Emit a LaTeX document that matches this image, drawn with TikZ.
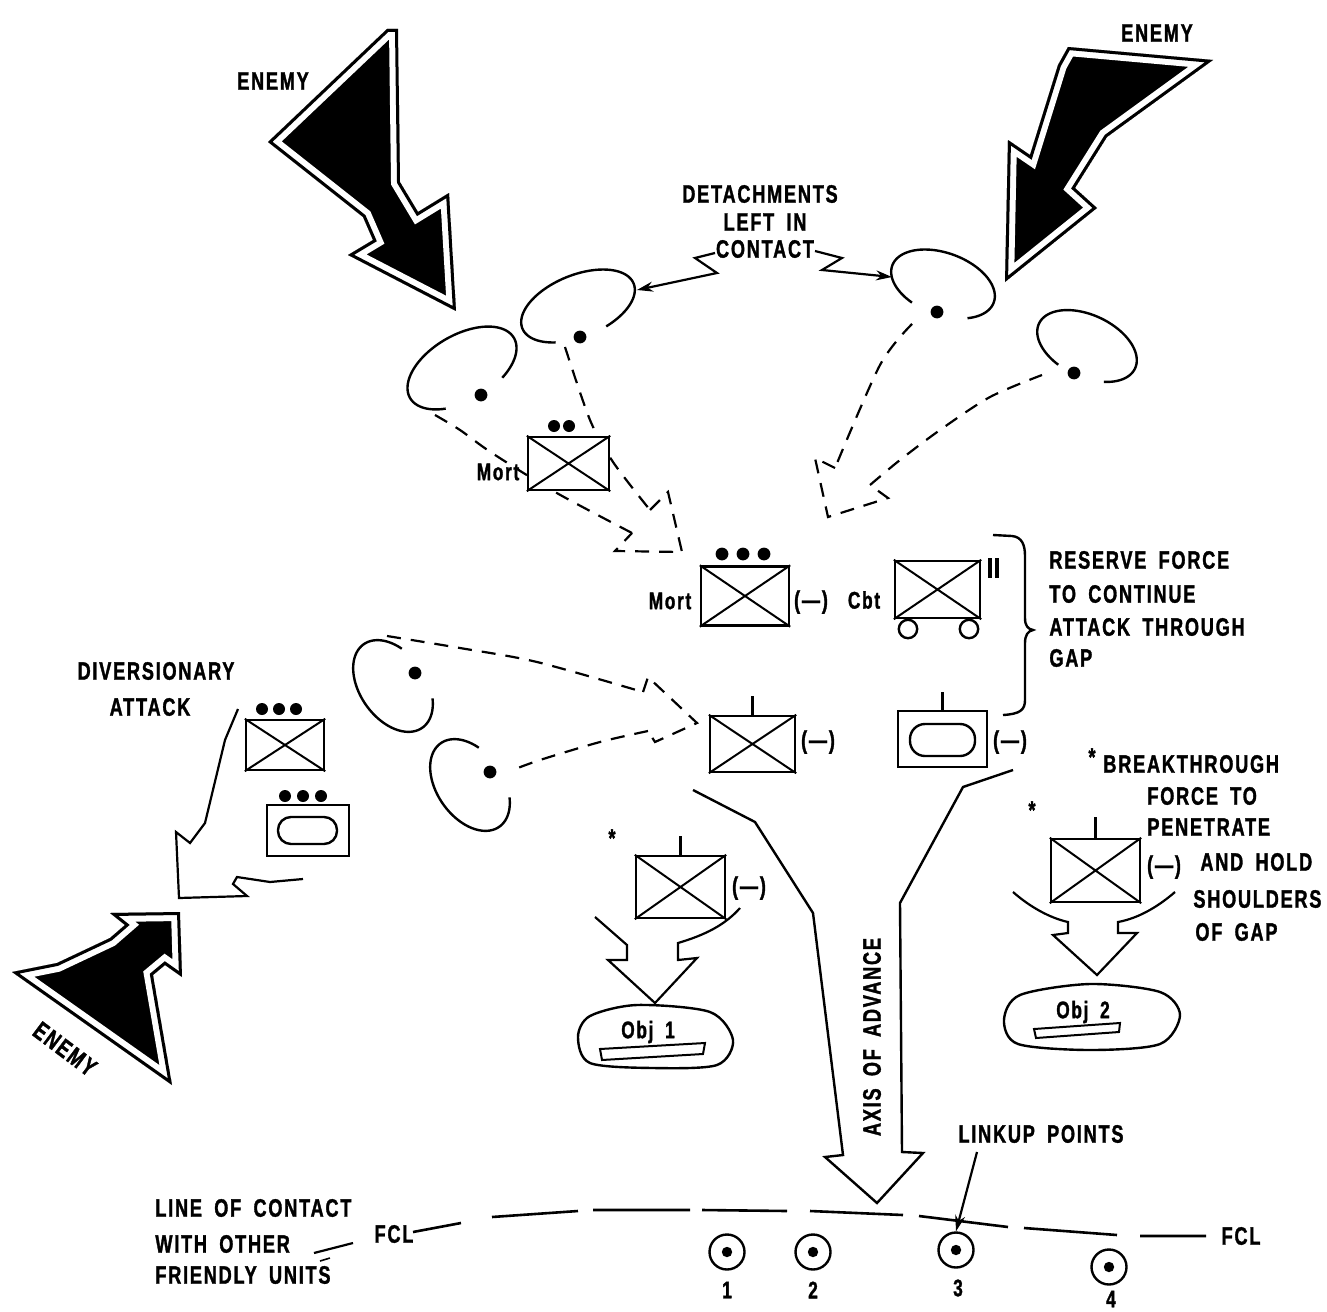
\documentclass[tikz,border=0pt]{standalone}
\usepackage{fontspec}
\newfontfamily\lblfont{Liberation Sans}[FakeStretch=0.72,LetterSpace=7,WordSpace=1.8,BoldFeatures={FakeBold=1.3}]
\usetikzlibrary{arrows.meta}
\newcommand\enemyshape[1]{%
  \begin{scope}
    \clip #1;
    \fill[black] #1;
    \draw[white,line width=9pt,line join=miter] #1;
    \draw[black,line width=3pt,line join=miter] #1;
  \end{scope}}
\newcommand\detarc[7]{%
  \draw[line width=1.2pt] plot[domain=#6:#7,samples=90,variable=\t]
    ({#1+#3*cos(\t)*cos(#5)-#4*sin(\t)*sin(#5)},{#2+#3*cos(\t)*sin(#5)+#4*sin(\t)*cos(#5)});}
\begin{document}
\begin{tikzpicture}[x=0.5pt,y=-0.5pt,
  lbl/.style={font=\lblfont\bfseries\fontsize{12.6pt}{15pt}\selectfont,inner sep=0pt},
  sml/.style={font=\lblfont\bfseries\fontsize{12pt}{14pt}\selectfont,inner sep=0pt},
  ln/.style={line width=1.1pt},
  dsh/.style={line width=1.1pt,dash pattern=on 7pt off 5pt},
  xb/.style={draw,line width=1.2pt,fill=white,rectangle,inner sep=0pt},
  ring/.style={draw,circle,line width=1.2pt,minimum size=17.5pt,inner sep=0pt},
  tip/.style={-{Stealth[length=8pt,width=5pt]}}]
\path[fill=white] (0,0) rectangle (1327,1311);
\useasboundingbox (0,0) rectangle (1327,1311);

% ---------- enemy arrows ----------
\enemyshape{(387,29) -- (398,29) -- (400,182) -- (418,212) -- (449,193) -- (456,311) -- (348,255) -- (373,240) -- (363,217) -- (268,142) -- cycle}
\enemyshape{(1068,47) -- (1213,60) -- (1107,137) -- (1075,188) -- (1097,208) -- (1005,282) -- (1008,140) -- (1030,155) -- (1058,65) -- cycle}
\enemyshape{(12,972) -- (57,963) -- (110,938) -- (125,925) -- (110,913) -- (180,912) -- (182,977) -- (165,965) -- (153,975) -- (172,1085) -- cycle}
\node[lbl] (en1) at (273,81) {ENEMY};
\node[lbl] (en2) at (1157,33) {ENEMY};
\node[lbl,rotate=-37] (en3) at (65,1049) {ENEMY};

% ---------- detachments ----------
\detarc{578}{306}{60}{31}{-22}{125}{432}
\detarc{462}{368}{60}{33}{-30}{125}{420}
\detarc{943}{284}{54}{31}{20}{115}{410}
\detarc{1087}{346}{53}{31}{25}{110}{415}
\detarc{393}{686}{51}{33}{55}{310}{600}
\detarc{470}{785}{51}{33}{55}{310}{600}
\coordinate (d1) at (580,337);
\coordinate (d2) at (481,395);
\coordinate (d3) at (937,312);
\coordinate (d4) at (1074,373);
\coordinate (d5) at (415,673);
\coordinate (d6) at (490,772);
\foreach \p in {d1,d2,d3,d4,d5,d6} \fill (\p) circle[radius=3.2pt];

\node[lbl] (tx1) at (760,194) {DETACHMENTS};
\node[lbl] (tx2) at (765,222) {LEFT IN};
\node[lbl] (tx3) at (765,249) {CONTACT};
\coordinate (z1) at (715,253);
\coordinate (z2) at (815,251);
\coordinate (e1r) at (637,290);
\coordinate (e3l) at (892,277);
\draw[ln,tip] (z1) -- (695,258) -- (717,273) -- (e1r);
\draw[ln,tip] (z2) -- (842,258) -- (822,270) -- (e3l);

% ---------- dashed withdrawal arrows ----------
\draw[dsh] plot[smooth] coordinates {(565,347) (590,420) (613,462) (650,510)};
\draw[dsh] plot[smooth] coordinates {(435,415) (460,430) (492,453) (555,492) (632,533)};
\draw[dsh] (650,510) -- (668,492) -- (682,552) -- (615,551) -- (632,533);

\draw[dsh] plot[smooth] coordinates {(912,324) (880,365) (835,468)};
\draw[dsh] (835,468) -- (815,458) -- (828,517) -- (888,498) -- (870,485);
\draw[dsh] plot[smooth] coordinates {(870,485) (900,460) (940,430) (990,397) (1042,375)};

\draw[dsh] plot[smooth] coordinates {(387,636) (460,648) (537,662) (643,692)};
\draw[dsh] (643,692) -- (648,677) -- (697,723) -- (655,742) -- (648,731);
\draw[dsh] plot[smooth] coordinates {(648,731) (600,742) (540,760) (510,771)};

% ---------- mortar platoon ----------
\node[xb,minimum width=40.5pt,minimum height=26.5pt] (m2) at (568.5,463.5) {};
\draw[line width=1pt] (m2.north west) -- (m2.south east) (m2.north east) -- (m2.south west);
\fill (554,426) circle[radius=3pt] (569,426) circle[radius=3pt];
\node[sml] (mo1) at (498,472) {Mort};

% ---------- reserve ----------
\node[xb,minimum width=44pt,minimum height=29.5pt] (m3) at (745,596) {};
\draw[line width=1pt] (m3.north west) -- (m3.south east) (m3.north east) -- (m3.south west);
\fill (722,554) circle[radius=3.2pt] (743,554) circle[radius=3.2pt] (764,554) circle[radius=3.2pt];
\node[sml] (mo2) at (670,601) {Mort};
\node[lbl] (mn1) at (811,602) {(\textemdash)};
\node[sml] (cbt) at (864,600) {Cbt};
\node[xb,minimum width=42.5pt,minimum height=28.5pt] (cb) at (937.5,589.5) {};
\draw[line width=1pt] (cb.north west) -- (cb.south east) (cb.north east) -- (cb.south west);
\draw[line width=1.2pt] (908,629) circle[radius=4.6pt] (969,629) circle[radius=4.6pt];
\draw[line width=1.6pt] (990,558) -- (990,578) (997,558) -- (997,578);
\draw[line width=1.2pt] (993,535) -- (1012,536) .. controls (1022,537) and (1025,545) .. (1025,556) -- (1025,618) .. controls (1025,626) and (1028,629) .. (1033,630) .. controls (1028,631) and (1025,635) .. (1025,643) -- (1025,700) .. controls (1025,710) and (1020,714) .. (1003,715);
\node[lbl,anchor=west] (rs1) at (1049,560) {RESERVE FORCE};
\node[lbl,anchor=west] (rs2) at (1049,594) {TO CONTINUE};
\node[lbl,anchor=west] (rs3) at (1049,627) {ATTACK THROUGH};
\node[lbl,anchor=west] (rs4) at (1049,658) {GAP};

\node[xb,minimum width=42.5pt,minimum height=28pt] (xl) at (752.5,744) {};
\draw[line width=1pt] (xl.north west) -- (xl.south east) (xl.north east) -- (xl.south west);
\draw[line width=1.2pt] (xl.north) -- ++(0,-19);
\node[lbl] (mn2) at (818,742) {(\textemdash)};
\node[xb,minimum width=44.5pt,minimum height=28pt] (ar) at (942.5,739) {};
\draw[line width=1.2pt] (ar.north) -- ++(0,-18);
\draw[line width=1.2pt,rounded corners=7.5pt] (910,724) rectangle (975,756);
\node[lbl] (mn3) at (1010,742) {(\textemdash)};

% ---------- diversionary attack ----------
\node[lbl] (dv1) at (156,671) {DIVERSIONARY};
\node[lbl] (dv2) at (150,707) {ATTACK};
\node[xb,minimum width=39pt,minimum height=25pt] (dx) at (285,745) {};
\draw[line width=1pt] (dx.north west) -- (dx.south east) (dx.north east) -- (dx.south west);
\fill (262,709) circle[radius=3pt] (279,709) circle[radius=3pt] (296,709) circle[radius=3pt];
\node[xb,minimum width=41pt,minimum height=25.5pt] (da) at (308,830.5) {};
\draw[line width=1.2pt,rounded corners=6.5pt] (278,817) rectangle (337,844);
\fill (285,796) circle[radius=3pt] (303,796) circle[radius=3pt] (321,796) circle[radius=3pt];
\draw[ln,line join=miter] (238,709) -- (225,740) -- (205,823) -- (190,843) -- (176,832) -- (179,898) -- (247,896) -- (233,884) -- (237,877) -- (270,882) -- (303,879);

% ---------- axis of advance ----------
\draw[line width=1.2pt,line join=miter] (693,790) -- (755,822) -- (813,913) -- (843,1155) -- (825,1157) -- (877,1203) -- (923,1153) -- (902,1152) -- (900,903) -- (963,787) -- (1013,770);
\node[lbl,rotate=90] (ax) at (872,1037) {AXIS OF ADVANCE};

% ---------- breakthrough ----------
\node[lbl] (st1) at (612,838) {*};
\node[xb,minimum width=44.5pt,minimum height=31pt] (b1) at (680.5,887) {};
\draw[line width=1pt] (b1.north west) -- (b1.south east) (b1.north east) -- (b1.south west);
\draw[line width=1.2pt] (b1.north) -- ++(0,-19);
\node[lbl] (mn4) at (749,888) {(\textemdash)};
\draw[ln,line join=miter] (595,917) -- (627,945) -- (627,960) -- (608,960) -- (655,1003) -- (697,958) -- (678,960) -- (678,943) .. controls (705,935) and (725,925) .. (740,908);
\draw[line width=1.2pt] plot[smooth cycle] coordinates {(578,1037) (590,1016) (637,1005) (710,1012) (733,1040) (717,1065) (653,1068) (590,1063)};
\node[sml] (ob1) at (648,1032) {Obj 1};
\draw[line width=1pt] (600,1049) -- (705,1043) -- (703,1054) -- (602,1060) -- cycle;

\node[lbl] (st2) at (1032,810) {*};
\node[xb,minimum width=44.5pt,minimum height=31.5pt] (b2) at (1095.5,870.5) {};
\draw[line width=1pt] (b2.north west) -- (b2.south east) (b2.north east) -- (b2.south west);
\draw[line width=1.2pt] (b2.north) -- ++(0,-21);
\node[lbl] (mn5) at (1164,867) {(\textemdash)};
\draw[ln,line join=miter] (1013,892) .. controls (1030,907) and (1050,918) .. (1068,922) -- (1068,933) -- (1053,935) -- (1097,975) -- (1137,933) -- (1118,933) -- (1118,922) .. controls (1140,918) and (1160,905) .. (1175,892);
\draw[line width=1.2pt] plot[smooth cycle] coordinates {(1004,1020) (1020,995) (1090,984) (1160,992) (1180,1015) (1160,1044) (1090,1050) (1018,1044)};
\node[sml] (ob2) at (1083,1012) {Obj 2};
\draw[line width=1pt] (1034,1029) -- (1120,1023) -- (1119,1032) -- (1036,1038) -- cycle;

\node[lbl] (st3) at (1092,757) {*};
\node[lbl,anchor=west] (bt1) at (1103,764) {BREAKTHROUGH};
\node[lbl,anchor=west] (bt2) at (1147,796) {FORCE TO};
\node[lbl,anchor=west] (bt3) at (1147,827) {PENETRATE};
\node[lbl,anchor=west] (bt4) at (1200,862) {AND HOLD};
\node[lbl,anchor=west] (bt5) at (1193,899) {SHOULDERS};
\node[lbl,anchor=west] (bt6) at (1195,932) {OF GAP};

% ---------- line of contact ----------
\node[lbl,anchor=west] (lc1) at (155,1208) {LINE OF CONTACT};
\node[lbl,anchor=west] (lc2) at (155,1244) {WITH OTHER};
\node[lbl,anchor=west] (lc3) at (155,1275) {FRIENDLY UNITS};
\draw[ln] (314,1253) -- (353,1243);
\draw[line width=0.8pt] (320,1261) -- (330,1258);
\node[lbl] (fc1) at (394,1234) {FCL};
\node[lbl] (fc2) at (1241,1236) {FCL};
\draw[line width=1.3pt] (413,1232) -- (461,1223) (492,1217) -- (578,1211) (593,1210) -- (690,1210) (702,1210) -- (787,1211) (810,1211) -- (903,1215) (919,1216) -- (1008,1227) (1024,1228) -- (1117,1235) (1140,1236) -- (1206,1236);
\node[ring] (p1) at (727,1252) {};
\node[ring] (p2) at (813,1252) {};
\node[ring] (p3) at (956,1250) {};
\node[ring] (p4) at (1109,1267) {};
\foreach \p in {p1,p2,p3,p4} \fill (\p) circle[radius=2.6pt];
\node[sml] (n1) at (727,1290) {1};
\node[sml] (n2) at (813,1290) {2};
\node[sml] (n3) at (958,1288) {3};
\node[sml] (n4) at (1111,1299) {4};
\node[lbl] (lk) at (1041,1134) {LINKUP POINTS};
\draw[ln,tip] (977,1152) -- (p3.north);
\end{tikzpicture}
\end{document}
